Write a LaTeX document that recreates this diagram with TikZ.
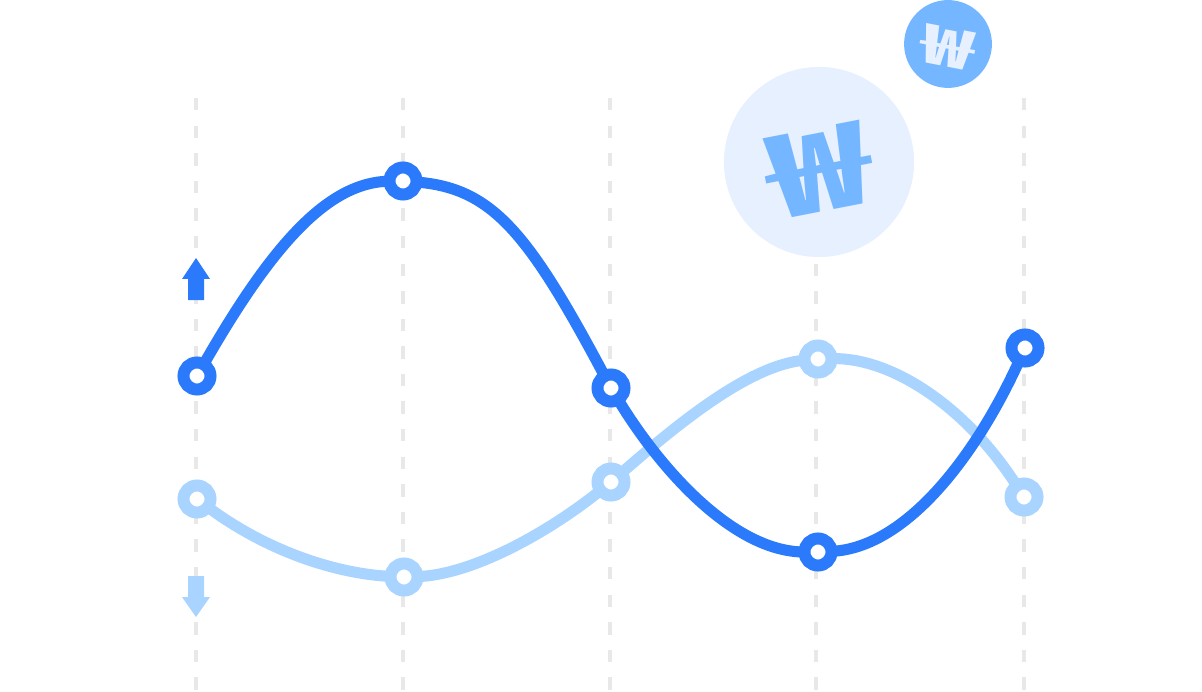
\documentclass[tikz,border=0pt]{standalone}
\usepackage{fontspec}
\newfontfamily\wonfont{Noto Sans CJK KR}
\definecolor{darkblue}{HTML}{2B7AFB}
\definecolor{lightblue}{HTML}{A9D4FF}
\definecolor{midblue}{HTML}{74B6FF}
\definecolor{paleblue}{HTML}{E6F0FE}
\definecolor{gridgray}{HTML}{E8E8E8}
\tikzset{
  grid/.style={draw=gridgray,line width=2.3pt,dash pattern=on 7.1pt off 8.6pt},
  dot/.style={circle,fill=white,line width=6.8pt,minimum size=15.4pt,inner sep=0pt,outer sep=0pt},
  darkdot/.style={dot,draw=darkblue},
  lightdot/.style={dot,draw=lightblue},
  curve/.style={line width=6.3pt},
  coin/.style={circle,inner sep=0pt,outer sep=0pt},
  won/.style={inner sep=0pt,transform shape},
}
\begin{document}
\begin{tikzpicture}[x=0.02cm,y=-0.02cm]
\useasboundingbox (0,0) rectangle (1202,692);

\coordinate (g1a) at (196,98);
\coordinate (g1b) at (196,692);
\coordinate (g2a) at (403,98);
\coordinate (g2b) at (403,692);
\coordinate (g3a) at (610,98);
\coordinate (g3b) at (610,692);
\coordinate (g4a) at (816,98);
\coordinate (g4b) at (816,692);
\coordinate (g5a) at (1024,98);
\coordinate (g5b) at (1024,692);
\foreach \i in {1,...,5}
  \draw[grid] (g\i a) -- (g\i b);

\node[coin,fill=paleblue,minimum size=108.2pt] (c1) at (819,162) {};
\node[coin,fill=midblue,minimum size=50pt] (c2) at (948,44) {};
\node[rotate=11,xscale=1.45,won,text=midblue,font=\wonfont\bfseries\fontsize{65}{65}\selectfont] (won1) at (819,170) {₩};
\node[rotate=-11,xscale=1.6,won,text=paleblue,font=\wonfont\bfseries\fontsize{30.5}{30.5}\selectfont] (won2) at (948,47) {₩};

\fill[darkblue] (196,258) -- (210,279) -- (204,279) -- (204,300) -- (188,300) -- (188,279) -- (182,279) -- cycle;
\fill[lightblue] (196,617) -- (210,597) -- (204,597) -- (204,576) -- (188,576) -- (188,597) -- (182,597) -- cycle;

\node[lightdot] (l1) at (197,499) {};
\node[lightdot] (l2) at (404,577) {};
\node[lightdot] (l3) at (611,482) {};
\node[lightdot] (l4) at (818,359) {};
\node[lightdot] (l5) at (1024,497) {};
\node[darkdot] (d1) at (197,376) {};
\node[darkdot] (d2) at (403,181) {};
\node[darkdot] (d3) at (611,388) {};
\node[darkdot] (d4) at (818,552) {};
\node[darkdot] (d5) at (1025,348) {};

\draw[curve,lightblue] (l1) .. controls (268,552) and (338,574) .. (l2);
\draw[curve,lightblue] (l2) .. controls (470,575) and (545,535) .. (l3);
\draw[curve,lightblue] (l3) .. controls (680,422) and (750,365) .. (l4);
\draw[curve,lightblue] (l4) .. controls (890,357) and (965,405) .. (l5);
\draw[curve,darkblue] (d1) .. controls (272,245) and (328,182) .. (d2);
\draw[curve,darkblue] (d2) .. controls (492,188) and (528,232) .. (d3);
\draw[curve,darkblue] (d3) .. controls (662,472) and (735,552) .. (d4);
\draw[curve,darkblue] (d4) .. controls (905,548) and (975,458) .. (d5);
\end{tikzpicture}
\end{document}
